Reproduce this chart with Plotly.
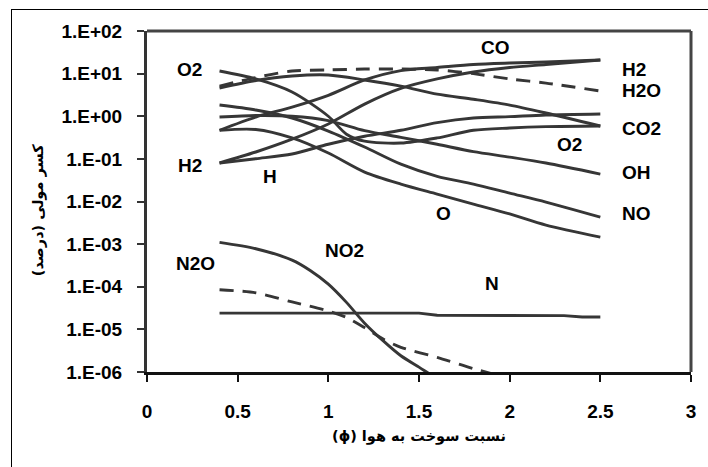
import math
import plotly.graph_objects as go

# ---------------- data (mole percent vs equivalence ratio) ----------------
phi = [0.4, 0.6, 0.8, 1.0, 1.2, 1.4, 1.6, 1.8, 2.0, 2.2, 2.5]

phi_o2 = [0.4, 0.6, 0.8, 1.0, 1.1, 1.2, 1.4, 1.6, 1.8, 2.0, 2.2, 2.5]
o2 = [11.5, 7.5, 3.7, 1.0, 0.38, 0.26, 0.235, 0.31, 0.47, 0.53, 0.57, 0.59]

h2o = [5.1, 8.1, 11.5, 12.2, 12.8, 12.8, 12.2, 10.0, 7.5, 6.0, 3.9]
co2 = [4.6, 6.9, 8.8, 9.3, 7.1, 5.1, 3.3, 2.5, 1.83, 1.19, 0.59]
co = [0.47, 0.96, 1.64, 3.1, 7.1, 11.8, 13.9, 16.4, 17.7, 18.7, 20.9]
h2 = [0.080, 0.145, 0.29, 0.66, 1.93, 4.5, 7.5, 10.9, 13.9, 16.4, 20.9]
h = [0.080, 0.101, 0.13, 0.22, 0.34, 0.47, 0.71, 0.91, 0.98, 1.07, 1.13]
oh = [0.96, 1.04, 1.0, 0.79, 0.46, 0.32, 0.22, 0.148, 0.110, 0.080, 0.044]
no = [1.83, 1.40, 0.91, 0.45, 0.19, 0.075, 0.039, 0.0256, 0.0157, 0.0097, 0.0043]
o = [0.47, 0.49, 0.31, 0.137, 0.049, 0.0256, 0.0149, 0.0087, 0.0051, 0.0028, 0.00146]

phi_no2 = [0.4, 0.6, 0.8, 0.9, 1.0, 1.1, 1.2, 1.3, 1.4, 1.5, 1.6, 1.8]
no2 = [1.1e-3, 7.8e-4, 4.2e-4, 2.4e-4, 1.15e-4, 4.3e-5, 1.4e-5, 5.5e-6, 2.4e-6, 1.3e-6, 7e-7, 2.5e-7]

phi_n2o = [0.4, 0.6, 0.8, 1.0, 1.1, 1.2, 1.3, 1.4, 1.6, 1.8, 2.0, 2.2]
n2o = [8.5e-5, 7.2e-5, 4.4e-5, 2.7e-5, 1.9e-5, 1.1e-5, 6.0e-6, 3.8e-6, 2.2e-6, 1.2e-6, 7e-7, 4e-7]

phi_n = [0.4, 0.6, 0.8, 1.0, 1.2, 1.4, 1.5, 1.6, 1.8, 2.0, 2.2, 2.3, 2.4, 2.5]
n = [2.4e-5, 2.4e-5, 2.4e-5, 2.4e-5, 2.4e-5, 2.4e-5, 2.4e-5, 2.15e-5, 2.15e-5, 2.15e-5, 2.15e-5,
     2.1e-5, 1.95e-5, 1.95e-5]

x_ticks = [0, 0.5, 1, 1.5, 2, 2.5, 3]
x_ticklabels = ["0", "0.5", "1", "1.5", "2", "2.5", "3"]
y_ticks = [1e2, 1e1, 1e0, 1e-1, 1e-2, 1e-3, 1e-4, 1e-5, 1e-6]
y_ticklabels = ["1.E+02", "1.E+01", "1.E+00", "1.E-01", "1.E-02", "1.E-03", "1.E-04", "1.E-05", "1.E-06"]

# species labels: (text, phi, value, anchor)
labels = [
    ("O2", 0.236, 12.2, "center"), ("H2", 0.236, 0.0715, "center"), ("H", 0.676, 0.0394, "center"),
    ("CO", 1.923, 42.0, "center"), ("H2", 2.61, 12.8, "left"), ("H2O", 2.61, 4.1, "left"),
    ("CO2", 2.61, 0.53, "left"), ("O2", 2.330, 0.222, "center"), ("OH", 2.61, 0.049, "left"),
    ("NO", 2.61, 0.0053, "left"), ("O", 1.637, 0.0051, "center"), ("N2O", 0.269, 3.6e-4, "center"),
    ("NO2", 1.088, 6.9e-4, "center"), ("N", 1.901, 1.2e-4, "center"),
]

RLM = "\u200f"
x_title = "(ϕ) " + "نسبت سوخت به هوا"
y_title = RLM + "کسر مولی (درصد)" + RLM

# ---------------- figure ----------------
LINE = "#363636"
FONT = "Liberation Sans, Arial, DejaVu Sans, sans-serif"

fig = go.Figure()


def add(xs, ys, dash="solid", shape="spline"):
    fig.add_trace(go.Scatter(
        x=xs, y=ys, mode="lines",
        line=dict(color=LINE, width=2.9, dash=dash, shape=shape, smoothing=0.8),
        showlegend=False, hoverinfo="skip"))


add(phi_o2, o2)
add(phi, co2)
add(phi, co)
add(phi, h2)
add(phi, h)
add(phi, oh)
add(phi, no)
add(phi, o)
add(phi, h2o, dash="14px,9px")
add(phi_no2, no2)
add(phi_n2o, n2o, dash="14px,9px")
add(phi_n, n, shape="linear")

annotations = []
for txt, xv, yv, anc in labels:
    annotations.append(dict(x=xv, y=math.log10(yv), xref="x", yref="y", text="<b>%s</b>" % txt,
                            showarrow=False, xanchor=anc, yanchor="middle",
                            font=dict(family=FONT, size=19, color="#000")))

annotations.append(dict(x=0.5, y=-0.19, xref="paper", yref="paper", text="<b>%s</b>" % x_title,
                        showarrow=False, xanchor="center", yanchor="middle",
                        font=dict(family="DejaVu Sans, sans-serif", size=14.5, color="#000")))
annotations.append(dict(x=-0.2, y=0.475, xref="paper", yref="paper", text="<b>%s</b>" % y_title,
                        showarrow=False, xanchor="center", yanchor="middle", textangle=-90,
                        font=dict(family="DejaVu Sans, sans-serif", size=14.5, color="#000")))

shapes = [
    # plot box top and right borders
    dict(type="line", xref="paper", yref="paper", x0=0, x1=1, y0=1, y1=1,
         line=dict(color="#444", width=3)),
    dict(type="line", xref="paper", yref="paper", x0=1, x1=1, y0=0, y1=1,
         line=dict(color="#444", width=3)),
]

fig.update_layout(
    width=708, height=467,
    margin=dict(l=147, r=15, t=31, b=95),
    paper_bgcolor="white", plot_bgcolor="white",
    annotations=annotations, shapes=shapes,
    xaxis=dict(range=[0, 3], tickvals=x_ticks, ticktext=["<b>%s</b>" % t for t in x_ticklabels],
               ticks="outside", ticklen=7, tickwidth=2, tickcolor="#111",
               showline=True, linecolor="#111", linewidth=3, showgrid=False, zeroline=False,
               tickfont=dict(family=FONT, size=19, color="#000"), ticklabelstandoff=13),
    yaxis=dict(type="log", range=[-6, 2], tickvals=y_ticks,
               ticktext=["<b>%s</b>" % t for t in y_ticklabels],
               ticks="outside", ticklen=7, tickwidth=1.5, tickcolor="#333",
               showline=True, linecolor="#333", linewidth=3, showgrid=False, zeroline=False,
               tickfont=dict(family=FONT, size=19, color="#000"), ticklabelstandoff=11),
)

# outer chart frame (top & left edges, as in the original picture)
frame_js = (
    "document.body.style.margin='0';document.body.style.overflow='hidden';"
    "var f=document.createElement('div');"
    "f.style.cssText='position:absolute;left:11px;top:9px;width:2000px;height:2000px;"
    "border-left:1px solid #000;border-top:1px solid #000;pointer-events:none;z-index:10;';"
    "document.body.appendChild(f);"
)

fig.write_html("out.html", config={"displayModeBar": False}, post_script=frame_js)
